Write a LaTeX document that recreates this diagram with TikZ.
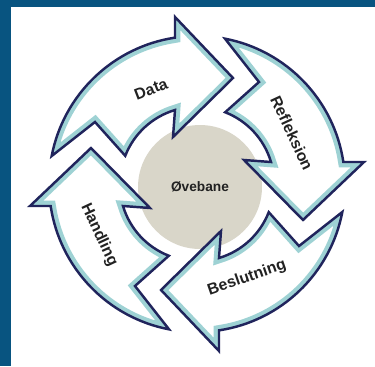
\documentclass[tikz,border=0pt]{standalone}
\usepackage{fontspec}
\setmainfont{Liberation Sans}
\usepackage{tikz}
\usetikzlibrary{calc}
\definecolor{frameblue}{RGB}{8,84,128}
\definecolor{rimteal}{RGB}{158,210,212}
\definecolor{rimnavy}{RGB}{32,36,92}
\definecolor{hubgray}{RGB}{217,214,201}
\definecolor{labelink}{RGB}{34,34,34}

% one curved arrow of the cycle, centre at the origin, pointing clockwise
\newcommand{\cyclearrow}{(-22,167) -- (36,106) -- (-24,47) -- (-22,74)
  arc[start angle=106.6,end angle=158.7,radius=77] -- (-102,62) -- (169.1:148)
  arc[start angle=169.1,end angle=98.55,radius=148] -- cycle}

\begin{document}
\begin{tikzpicture}[x=0.02cm,y=0.02cm,
  rimline/.style={draw=rimnavy,line width=1.4pt,line join=miter},
  rimband/.style={draw=rimteal,line width=6pt},
  looplabel/.style={text=labelink,font=\bfseries\fontsize{9}{11}\selectfont,inner sep=0pt}]
\useasboundingbox (0,0) rectangle (375,366);
\fill[white] (0,0) rectangle (375,366);
\fill[frameblue] (0,0) rectangle (11,366);
\fill[frameblue] (0,359) rectangle (375,366);

\node[circle,fill=hubgray,minimum size=2.48cm,inner sep=0pt] (hub) at (200,179) {};

\foreach \k in {0,1,2,3}{
  \begin{scope}[shift={(197,182)},rotate=-90*\k]
    \fill[white] \cyclearrow;
    \begin{scope}
      \clip \cyclearrow;
      \draw[rimband] \cyclearrow;
    \end{scope}
    \draw[rimline] \cyclearrow;
  \end{scope}
}

\node[looplabel,font=\bfseries\fontsize{7.8}{9}\selectfont] (ovebane) at (hub) {Øvebane};
\node[looplabel,rotate=21] (data) at (151,277) {Data};
\node[looplabel,rotate=-65] (refleksion) at (292,233) {Refleksion};
\node[looplabel,rotate=19] (beslutning) at (247,88) {Beslutning};
\node[looplabel,rotate=-65] (handling) at (99,131) {Handling};
\end{tikzpicture}
\end{document}
